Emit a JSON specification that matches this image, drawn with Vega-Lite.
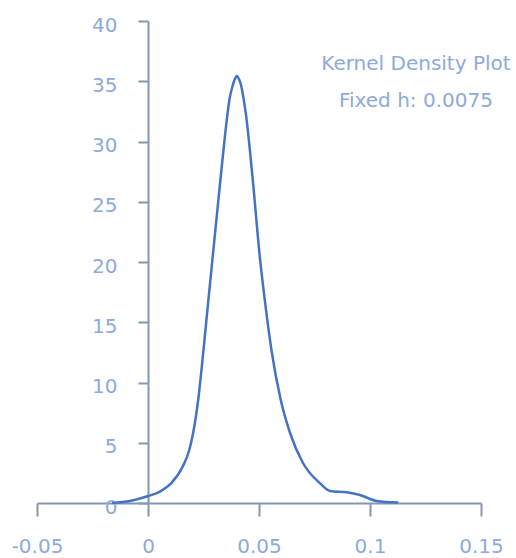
{
  "$schema": "https://vega.github.io/schema/vega-lite/v6.json",
  "width": 444,
  "height": 482,
  "autosize": {"type": "none"},
  "padding": {"left": 37, "top": 21, "right": 35, "bottom": 55},
  "background": "white",
  "config": {"view": {"stroke": null}},
  "layer": [
    {
      "data": {"values": [
        {"x": -0.0162, "y": 0.0},
        {"x": -0.0081, "y": 0.17},
        {"x": 0.0001, "y": 0.58},
        {"x": 0.0054, "y": 0.95},
        {"x": 0.0104, "y": 1.63},
        {"x": 0.0156, "y": 3.01},
        {"x": 0.0186, "y": 4.4},
        {"x": 0.0203, "y": 5.78},
        {"x": 0.0226, "y": 8.55},
        {"x": 0.0250, "y": 12.7},
        {"x": 0.0272, "y": 16.85},
        {"x": 0.0290, "y": 20.17},
        {"x": 0.0326, "y": 26.8},
        {"x": 0.0344, "y": 30.0},
        {"x": 0.0357, "y": 32.12},
        {"x": 0.0367, "y": 33.5},
        {"x": 0.0381, "y": 34.61},
        {"x": 0.0391, "y": 35.16},
        {"x": 0.0400, "y": 35.44},
        {"x": 0.0410, "y": 35.16},
        {"x": 0.0420, "y": 34.61},
        {"x": 0.0431, "y": 33.5},
        {"x": 0.0442, "y": 32.12},
        {"x": 0.0472, "y": 26.8},
        {"x": 0.0505, "y": 20.17},
        {"x": 0.0526, "y": 16.85},
        {"x": 0.0556, "y": 12.7},
        {"x": 0.0598, "y": 8.55},
        {"x": 0.0640, "y": 5.81},
        {"x": 0.0698, "y": 3.32},
        {"x": 0.0775, "y": 1.63},
        {"x": 0.0820, "y": 1.0},
        {"x": 0.0895, "y": 0.89},
        {"x": 0.0955, "y": 0.66},
        {"x": 0.1030, "y": 0.17},
        {"x": 0.1127, "y": 0.04}
      ]},
      "mark": {"type": "line", "color": "#4472C4", "strokeWidth": 2.5, "interpolate": "monotone"},
      "encoding": {
        "x": {
          "field": "x", "type": "quantitative",
          "scale": {"domain": [-0.05, 0.15], "nice": false, "zero": false},
          "axis": {
            "title": null, "grid": false, "values": [-0.05, 0, 0.05, 0.1, 0.15],
            "format": "~g", "labelExpr": "replace(datum.label, '\u2212', '-')",
            "domainColor": "#8497B0", "domainWidth": 2,
            "tickColor": "#8497B0", "tickWidth": 2, "tickSize": 13,
            "labelColor": "#8EA9DB", "labelFont": "DejaVu Sans", "labelFontSize": 20,
            "labelPadding": 20, "labelFlush": false, "labelOverlap": false
          }
        },
        "y": {
          "field": "y", "type": "quantitative",
          "scale": {"domain": [0, 40], "nice": false},
          "axis": {
            "title": null, "grid": false, "values": [0, 5, 10, 15, 20, 25, 30, 35, 40],
            "offset": -111, "domainColor": "#8497B0", "domainWidth": 2,
            "tickColor": "#8497B0", "tickWidth": 2, "tickSize": 10,
            "labelColor": "#8EA9DB", "labelFont": "DejaVu Sans", "labelFontSize": 20,
            "labelPadding": 21, "labelOffset": 4, "labelFlush": false, "labelOverlap": false
          }
        }
      }
    },
    {
      "data": {"values": [{"label": "Kernel Density Plot"}]},
      "mark": {"type": "text", "font": "DejaVu Sans", "fontSize": 20, "color": "#8EA9DB", "align": "center", "baseline": "middle"},
      "encoding": {
        "x": {"datum": 0.1207, "type": "quantitative"},
        "y": {"datum": 36.4, "type": "quantitative"},
        "text": {"field": "label"}
      }
    },
    {
      "data": {"values": [{"label": "Fixed h: 0.0075"}]},
      "mark": {"type": "text", "font": "DejaVu Sans", "fontSize": 20, "color": "#8EA9DB", "align": "center", "baseline": "middle"},
      "encoding": {
        "x": {"datum": 0.1207, "type": "quantitative"},
        "y": {"datum": 33.4, "type": "quantitative"},
        "text": {"field": "label"}
      }
    }
  ]
}
